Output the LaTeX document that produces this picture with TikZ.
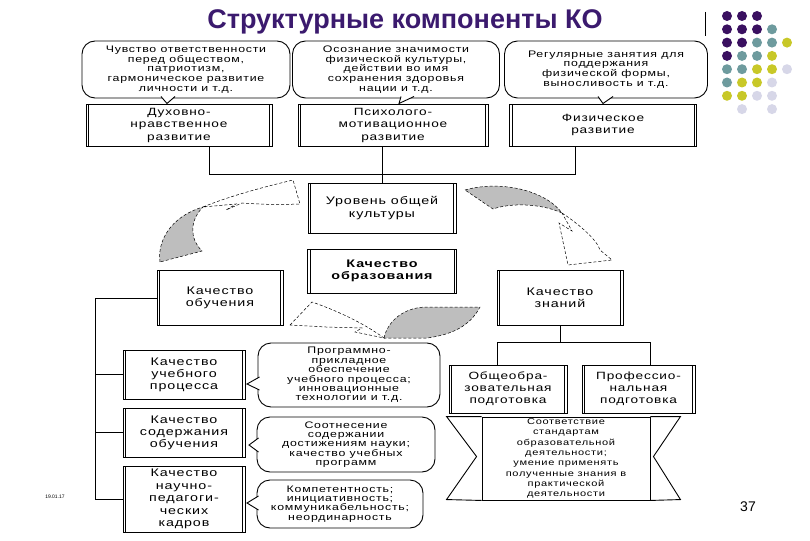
\documentclass[tikz,border=0pt]{standalone}
\usepackage{fontspec}
\setmainfont{Liberation Sans}
\newfontfamily\wide[FakeStretch=1.3,LetterSpace=8]{Liberation Sans}
\usetikzlibrary{positioning}

\definecolor{titlepurple}{RGB}{59,26,110}
\definecolor{dpur}{RGB}{58,16,96}
\definecolor{dteal}{RGB}{110,155,158}
\definecolor{dyel}{RGB}{200,200,40}
\definecolor{dlil}{RGB}{215,215,232}
\definecolor{swirlgray}{RGB}{190,190,190}

\newcommand{\bubtail}[3]{%
  \fill[white] #1 -- #2 -- #3 -- cycle;
  \draw[line width=0.9pt] #1 -- #2 -- #3;}

\begin{document}
\begin{tikzpicture}[x=1pt,y=-1pt,
  procbox/.style={draw,line width=0.8pt,fill=white,align=center,inner sep=0pt,
    font=\wide\fontsize{11}{12.5}\selectfont,
    path picture={\draw[line width=0.5pt]
      ([xshift=2.5pt]path picture bounding box.south west) -- ([xshift=2.5pt]path picture bounding box.north west)
      ([xshift=-2.5pt]path picture bounding box.south east) -- ([xshift=-2.5pt]path picture bounding box.north east);}},
  topbox/.style={procbox,minimum height=42pt,font=\wide\fontsize{10.5}{12.5}\selectfont},
  bubble/.style={draw,line width=0.9pt,rounded corners=13pt,fill=white,align=center,inner sep=0pt},
  topbub/.style={bubble,minimum height=57pt,font=\wide\fontsize{9.5}{9.8}\selectfont},
  sidebub/.style={bubble,font=\wide\fontsize{9.5}{9.4}\selectfont},
  swirl/.style={draw,densely dashed,line width=0.5pt},
  conn/.style={line width=0.8pt}]

\fill[white] (0,0) rectangle (810,540);
\useasboundingbox (0,0) rectangle (810,540);

\node(title) at (405,22) {\fontsize{27}{30}\selectfont\bfseries\color{titlepurple}Структурные компоненты КО};
\draw (705,12) -- (705,36);

\foreach \c/\r/\col in {1/1/dpur,2/1/dpur,3/1/dpur,
  1/2/dpur,2/2/dpur,3/2/dpur,4/2/dteal,
  1/3/dpur,2/3/dpur,3/3/dteal,4/3/dteal,5/3/dyel,
  1/4/dpur,2/4/dteal,3/4/dteal,4/4/dyel,
  1/5/dteal,2/5/dteal,3/5/dyel,4/5/dyel,5/5/dlil,
  1/6/dteal,2/6/dyel,3/6/dyel,4/6/dlil,
  1/7/dyel,2/7/dyel,3/7/dlil,4/7/dlil,
  2/8/dlil,4/8/dlil}
  \fill[\col] (712+15*\c,2.7+13.3*\r) circle (5);

\node(date) at (55,497) {\fontsize{5}{6}\selectfont 19.01.17};
\node(page) at (748,507) {\fontsize{14}{16}\selectfont 37};

\node[topbub,minimum width=208pt] (t1) at (186,69.5)
  {Чувство ответственности\\перед обществом,\\патриотизм,\\гармоническое развитие\\личности и т.д.};
\node[topbub,minimum width=207pt] (t2) at (396,69.5)
  {Осознание значимости\\физической культуры,\\действии во имя\\сохранения здоровья\\нации и т.д.};
\node[topbub,minimum width=203pt] (t3) at (606,69.5)
  {Регулярные занятия для\\поддержания\\физической формы,\\выносливость и т.д.};
\bubtail{(161,96.5)}{(167,103.5)}{(175,96.5)}
\bubtail{(401,96.5)}{(399,103.5)}{(414,96.5)}
\bubtail{(598,96.5)}{(603,103.5)}{(613,96.5)}

\node[topbox,minimum width=186pt] (b1) at (179,125) {Духовно-\\нравственное\\развитие};
\node[topbox,minimum width=190pt] (b2) at (393,125) {Психолого-\\мотивационное\\развитие};
\node[topbox,minimum width=187pt] (b3) at (603,125) {Физическое\\развитие};

\node[procbox,minimum width=148pt,minimum height=50pt] (lvl) at (382,208) {Уровень общей\\культуры};
\node[procbox,minimum width=149pt,minimum height=44pt,font=\wide\bfseries\fontsize{11}{12.5}\selectfont] (ko) at (382,271) {Качество\\образования};
\node[procbox,minimum width=126pt,minimum height=55pt] (teach) at (220,298) {Качество\\обучения};
\node[procbox,minimum width=126pt,minimum height=55pt] (know) at (560,298) {Качество\\знаний};

\coordinate (ja) at (209,174);
\coordinate (jb) at (575,174);
\draw[conn] (b1.south -| ja) -- (ja) -- (jb) -- (b3.south -| jb);
\draw[conn] (b2.south -| lvl.north) -- (lvl.north);

\draw[swirl,fill=swirlgray] (160,262) .. controls (157,240) and (172,216) .. (203,207)
  .. controls (190,220) and (189,238) .. (202,251) -- cycle;
\draw[swirl,fill=white] (203,207) .. controls (230,196) and (260,188) .. (293,180) -- (300,204)
  .. controls (275,205) and (255,204) .. (242,203) -- (226,210) -- (236,204) -- cycle;
\draw[swirl,fill=swirlgray] (465,190) .. controls (500,180) and (545,190) .. (562,213)
  .. controls (540,203) and (510,203) .. (493,209) -- cycle;
\draw[swirl,fill=white] (562,213) .. controls (580,225) and (597,240) .. (600,250) -- (612,260)
  -- (568,265) -- (559,223) -- (572,231) -- cycle;
\draw[swirl,fill=swirlgray] (384,338) .. controls (388,320) and (405,307) .. (427,307) -- (480,307)
  .. controls (472,322) and (458,334) .. (427,338) -- cycle;
\draw[swirl,fill=white] (290,325) -- (312,302) .. controls (335,310) and (362,322) .. (384,338)
  -- (355,332) -- (362,328) -- (326,327) -- cycle;

\node[procbox,minimum width=122pt,minimum height=49pt,font=\wide\fontsize{11}{12}\selectfont] (pa) at (184,374.5) {Качество\\учебного\\процесса};
\node[procbox,minimum width=122pt,minimum height=49pt,font=\wide\fontsize{11}{12}\selectfont] (pb) at (184,432.5) {Качество\\содержания\\обучения};
\node[procbox,minimum width=122pt,minimum height=66pt] (pc) at (184,499) {Качество\\научно-\\педагоги-\\ческих\\кадров};

\coordinate (sp) at (95,303);
\draw[conn] (teach.west) -| (sp |- pc.west) -- (pc.west);
\draw[conn] (sp |- pa.west) -- (pa.west);
\draw[conn] (sp |- pb.west) -- (pb.west);

\node[sidebub,minimum width=182pt,minimum height=64pt] (ca) at (349,375)
  {Программно-\\прикладное\\обеспечение\\учебного процесса;\\инновационные\\технологии и т.д.};
\node[sidebub,minimum width=178pt,minimum height=55pt] (cb) at (346,444.5)
  {Соотнесение\\содержании\\достижениям науки;\\качество учебных\\программ};
\node[sidebub,minimum width=166pt,minimum height=48pt] (cc) at (340,504)
  {Компетентность;\\инициативность;\\коммуникабельность;\\неординарность};
\bubtail{(259.5,377)}{(247,384)}{(259.5,390)}
\bubtail{(258.5,438)}{(249,445)}{(258.5,452)}
\bubtail{(258.5,496)}{(247,503)}{(258.5,510)}

\node[procbox,minimum width=118pt,minimum height=48pt,font=\wide\fontsize{10.5}{12}\selectfont] (ga) at (508,389) {Общеобра-\\зовательная\\подготовка};
\node[procbox,minimum width=113pt,minimum height=48pt,font=\wide\fontsize{10.5}{12}\selectfont] (pr) at (638.5,389) {Профессио-\\нальная\\подготовка};

\coordinate (kl) at (497,342);
\coordinate (kr) at (650,342);
\draw[conn] (know.south) -- (know.south |- kl);
\draw[conn] (ga.north -| kl) -- (kl) -- (kr) -- (pr.north -| kr);

\node[draw,line width=0.9pt,fill=white,align=center,inner sep=0pt,minimum width=168pt,minimum height=83pt,
  font=\wide\fontsize{8.5}{10.3}\selectfont] (rib) at (566,458.5)
  {Соответствие\\стандартам\\образовательной\\деятельности;\\умение применять\\полученные знания в\\практической\\деятельности};
\draw[line width=0.9pt] (rib.north west) -- ++(-35,0) -- ++(30,40) -- ++(-30,43) -- (rib.south west);
\draw[line width=0.9pt] (rib.north east) -- ++(30,0) -- ++(-27,40) -- ++(27,43) -- (rib.south east);

\end{tikzpicture}
\end{document}
